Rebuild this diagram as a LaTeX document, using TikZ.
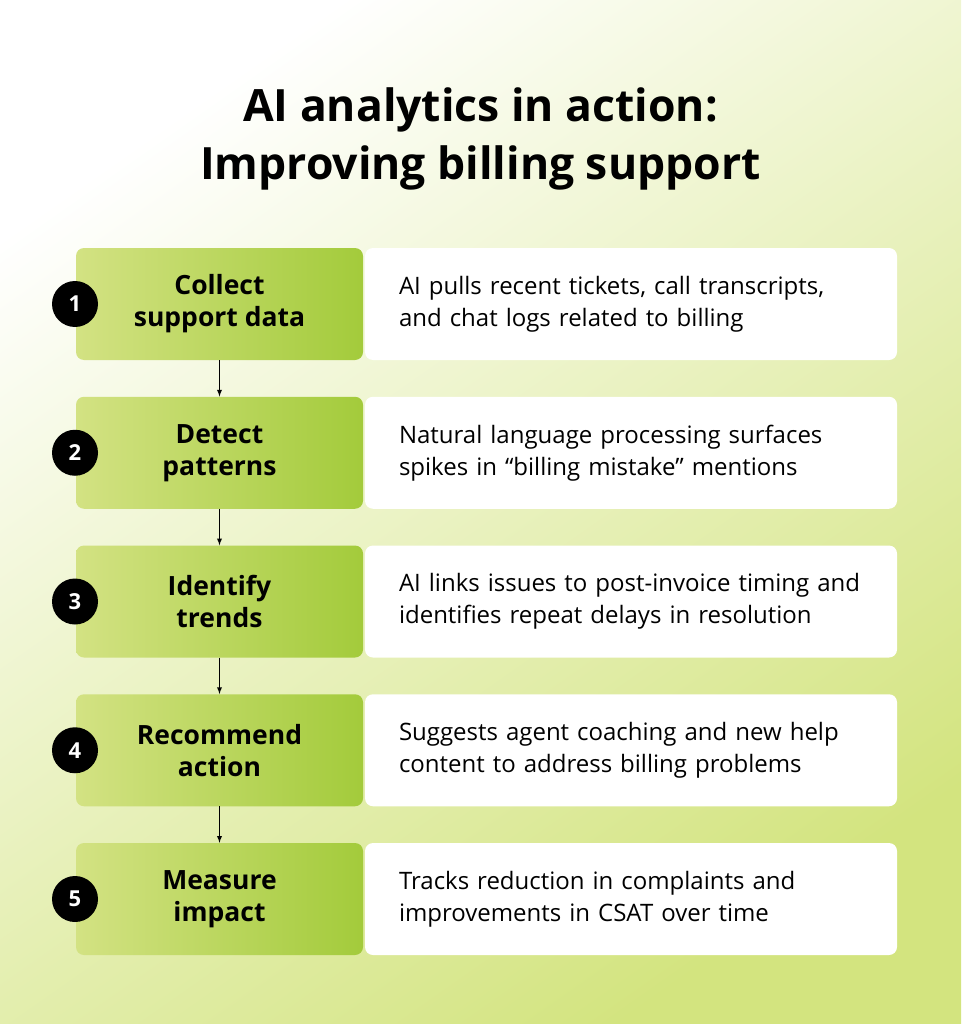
\documentclass[tikz,border=0pt]{standalone}
\usepackage{fontspec}
\setmainfont{Open Sans}
\definecolor{leafA}{HTML}{D3E283}
\definecolor{leafB}{HTML}{A3CB3B}
\definecolor{bgEnd}{HTML}{D3E47F}
\tikzset{
  stepname/.style={rounded corners=8pt, left color=leafA, right color=leafB,
    minimum width=287pt, minimum height=112pt, inner sep=0pt, align=center,
    font=\fontsize{26.5}{32}\selectfont\bfseries},
  stepnote/.style={rounded corners=8pt, fill=white, minimum width=532pt,
    minimum height=112pt, inner sep=0pt, text width=464pt, align=left,
    font=\fontsize{24}{32}\selectfont},
  stepnum/.style={circle, fill=black, minimum size=46pt, inner sep=0pt,
    text=white, font=\fontsize{22}{22}\selectfont\bfseries},
  flow/.style={-latex, line width=1.3pt}
}
\begin{document}
\begin{tikzpicture}[x=1pt,y=-1pt]
\useasboundingbox (0,0) rectangle (961,1024);
\shade[top color=white, bottom color=bgEnd, shading angle=35] (0,0) rectangle (961,1024);

\node[font=\fontsize{44.5}{58}\selectfont\bfseries, align=center] (title) at (480.5,139)
  {AI analytics in action:\\Improving billing support};

\foreach \i/\name/\note in {
  1/{Collect\\support data}/{AI pulls recent tickets, call transcripts,\\and chat logs related to billing},
  2/{Detect\\patterns}/{Natural language processing surfaces\\spikes in “billing mistake” mentions},
  3/{Identify\\trends}/{AI links issues to post-invoice timing and\\identifies repeat delays in resolution},
  4/{Recommend\\action}/{Suggests agent coaching and new help\\content to address billing problems},
  5/{Measure\\impact}/{Tracks reduction in complaints and\\improvements in CSAT over time}}
{
  \pgfmathsetmacro{\ypos}{304+148.75*(\i-1)}
  \node[stepname] (name\i) at (219.5,\ypos) {\name};
  \node[stepnote] (note\i) at (631,\ypos) {\note};
  \node[stepnum] (num\i) at (75,\ypos) {\i};
}

\foreach \i [count=\j from 2] in {1,...,4}
  \draw[flow] (name\i.south) -- (name\j.north);
\end{tikzpicture}
\end{document}
